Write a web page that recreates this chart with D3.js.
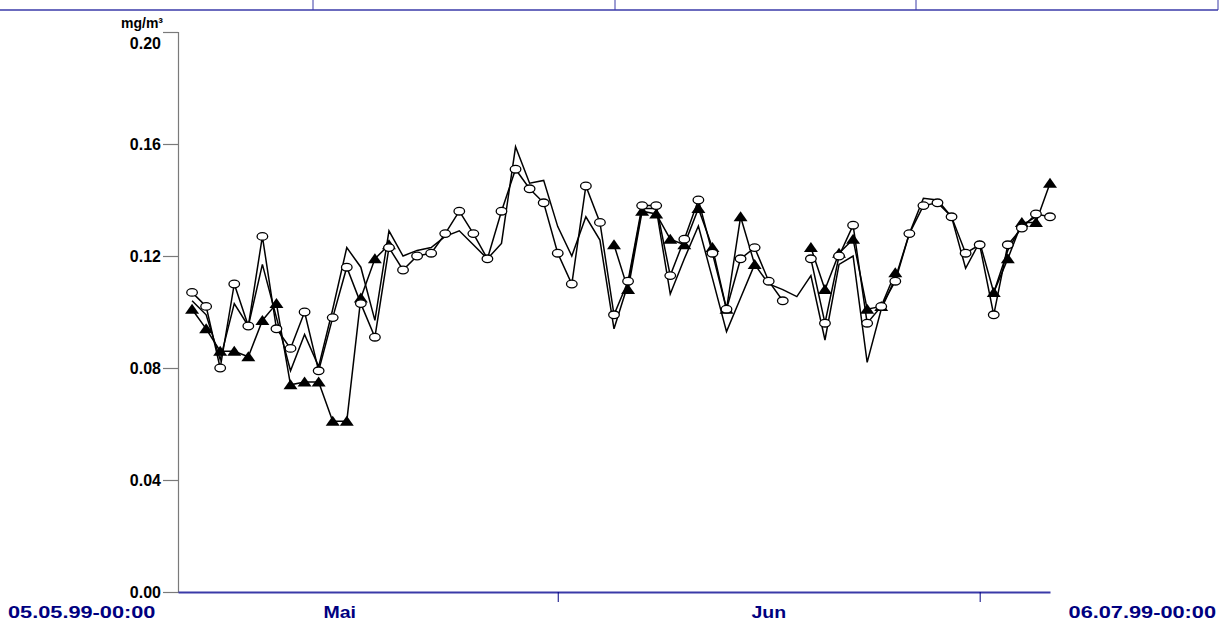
<!DOCTYPE html>
<html>
<head>
<meta charset="utf-8">
<script src="https://cdn.jsdelivr.net/npm/d3@7"></script>
<style>
  html, body { margin: 0; padding: 0; background: #fff; }
  svg { display: block; font-family: "Liberation Sans", Arial, sans-serif; }
</style>
</head>
<body>
<svg id="chart" width="1220" height="621"></svg>
<script>
// Daily means, 06.05.1999 … 06.07.1999 (mg/m³); null = no value that day
const startDate = new Date(Date.UTC(1999, 4, 5));
const endDate = new Date(Date.UTC(1999, 6, 6));

const seriesCircle = [
  0.107, 0.102, 0.080, 0.110, 0.095, 0.127, 0.094, 0.087, 0.100, 0.079,
  0.098, 0.116, 0.103, 0.091, 0.123, 0.115, 0.120, 0.121, 0.128, 0.136,
  0.128, 0.119, 0.136, 0.151, 0.144, 0.139, 0.121, 0.110, 0.145, 0.132,
  0.099, 0.111, 0.138, 0.138, 0.113, 0.126, 0.140, 0.121, 0.101, 0.119,
  0.123, 0.111, 0.104, null,  0.119, 0.096, 0.120, 0.131, 0.096, 0.102,
  0.111, 0.128, 0.138, 0.139, 0.134, 0.121, 0.124, 0.099, 0.124, 0.130,
  0.135, 0.134
];

const seriesTriangle = [
  0.101, 0.094, 0.086, 0.086, 0.084, 0.097, 0.103, 0.074, 0.075, 0.075,
  0.061, 0.061, 0.105, 0.119, 0.124, null,  null,  null,  null,  null,
  null,  null,  null,  null,  null,  null,  null,  null,  null,  null,
  0.124, 0.108, 0.136, 0.135, 0.126, 0.124, 0.137, 0.123, 0.101, 0.134,
  0.117, null,  null,  null,  0.123, 0.108, 0.121, 0.126, 0.101, 0.102,
  0.114, null,  null,  null,  null,  null,  null,  0.107, 0.119, 0.132,
  0.132, 0.146
];

const seriesPlain = [
  0.104, 0.099, 0.083, 0.103, 0.095, 0.117, 0.098, 0.079, 0.092, 0.0805,
  0.101, 0.123, 0.116, 0.097, 0.129, 0.120, 0.122, 0.123, 0.127, 0.129,
  0.124, 0.119, 0.1245, 0.159, 0.146, 0.147, 0.1305, 0.120, 0.134, 0.1257,
  0.094, 0.110, 0.137, 0.137, 0.1064, 0.119, 0.1307, 0.112, 0.093, 0.105,
  0.117, 0.110, 0.108, 0.1055, 0.113, 0.090, 0.117, 0.120, 0.082, 0.101,
  0.112, 0.128, 0.1406, 0.140, 0.134, 0.1156, 0.125, 0.107, 0.122, 0.131,
  0.134, null
];

const yTicks = [0, 0.04, 0.08, 0.12, 0.16, 0.20];
const unitLabel = "mg/m³";
const startLabel = "05.05.99-00:00";
const endLabel = "06.07.99-00:00";
const monthLabels = ["Mai", "Jun"];

// one timestamp per value: end of each day
const dates = d3.utcDay.range(d3.utcDay.offset(startDate, 1), d3.utcDay.offset(endDate, 1));

const svg = d3.select("#chart");
const navy = "#000080";
const axisBlue = "#3a3aa8";

const x = d3.scaleUtc().domain([startDate, endDate]).range([178, 1050]);
const y = d3.scaleLinear().domain([0, 0.20]).range([592, 32]);

// header rule with column separators
const header = svg.append("g");
header.append("line").attr("x1", 0).attr("x2", 1218).attr("y1", 10).attr("y2", 10)
  .attr("stroke", axisBlue).attr("stroke-width", 1.5);
[313, 615, 916, 1218].forEach(px => {
  header.append("line").attr("x1", px).attr("x2", px).attr("y1", 0).attr("y2", 10)
    .attr("stroke", axisBlue).attr("stroke-width", 1);
});

// y axis
const yAxis = svg.append("g").attr("transform", "translate(178,0)")
  .call(d3.axisLeft(y).tickValues(yTicks).tickFormat(d3.format(".2f")).tickSize(15).tickPadding(2));
yAxis.select(".domain").attr("stroke", "#7a7a7a").attr("stroke-width", 1.2);
yAxis.selectAll(".tick line").attr("stroke", "#7a7a7a").attr("stroke-width", 1.2);
yAxis.selectAll(".tick text")
  .attr("fill", "#000").attr("font-size", 16).attr("font-weight", "bold")
  .attr("font-family", "Liberation Sans, Arial, sans-serif")
  .attr("dy", d => d === 0.20 ? "1.0em" : "0.35em");

svg.append("text").attr("x", 163).attr("y", 28).attr("text-anchor", "end")
  .attr("font-size", 14).attr("font-weight", "bold").attr("fill", "#000")
  .text(unitLabel);

// x axis: month boundaries as ticks
const monthStarts = d3.utcMonth.range(d3.utcMonth.ceil(startDate), endDate);
const xAxis = svg.append("g").attr("transform", "translate(0,592)")
  .call(d3.axisBottom(x).tickValues(monthStarts).tickFormat("").tickSize(10).tickSizeOuter(0));
xAxis.select(".domain").attr("stroke", axisBlue).attr("stroke-width", 2);
xAxis.selectAll(".tick line").attr("stroke", navy).attr("stroke-width", 1);

// bottom labels use a wide, stretched bold face
const addLabel = (g, px, anchor, txt, sx) =>
  g.append("text").attr("transform", `translate(${px},618) scale(${sx},1)`)
    .attr("text-anchor", anchor).text(txt);

const monthMids = d3.utcMonth.range(d3.utcMonth.floor(startDate), d3.utcMonth.floor(endDate))
  .map(m => new Date((+m + +d3.utcMonth.offset(m, 1)) / 2));
const xl = svg.append("g").attr("font-size", 16).attr("font-weight", "bold").attr("fill", navy);
monthMids.forEach((m, i) => addLabel(xl, x(m), "middle", monthLabels[i], 1.22));
addLabel(xl, 8, "start", startLabel, 1.36);
addLabel(xl, 1216, "end", endLabel, 1.36);

// series lines
const line = d3.line()
  .defined(d => d.v != null)
  .x(d => x(d.t)).y(d => y(d.v));
const toPoints = arr => arr.map((v, i) => ({ t: dates[i], v }));

const plot = svg.append("g");
[seriesPlain, seriesTriangle, seriesCircle].forEach(arr => {
  plot.append("path").datum(toPoints(arr)).attr("d", line)
    .attr("fill", "none").attr("stroke", "#000").attr("stroke-width", 1.5)
    .attr("stroke-linejoin", "miter");
});

// triangle markers
plot.append("g").selectAll("path")
  .data(toPoints(seriesTriangle).filter(d => d.v != null))
  .join("path")
  .attr("d", d => {
    const cx = x(d.t), cy = y(d.v);
    return `M${cx},${cy - 5.5}L${cx + 7},${cy + 4.5}L${cx - 7},${cy + 4.5}Z`;
  })
  .attr("fill", "#000");

// circle markers
plot.append("g").selectAll("ellipse")
  .data(toPoints(seriesCircle).filter(d => d.v != null))
  .join("ellipse")
  .attr("cx", d => x(d.t)).attr("cy", d => y(d.v))
  .attr("rx", 5.3).attr("ry", 3.8)
  .attr("fill", "#fff").attr("stroke", "#000").attr("stroke-width", 1.3);
</script>
</body>
</html>
